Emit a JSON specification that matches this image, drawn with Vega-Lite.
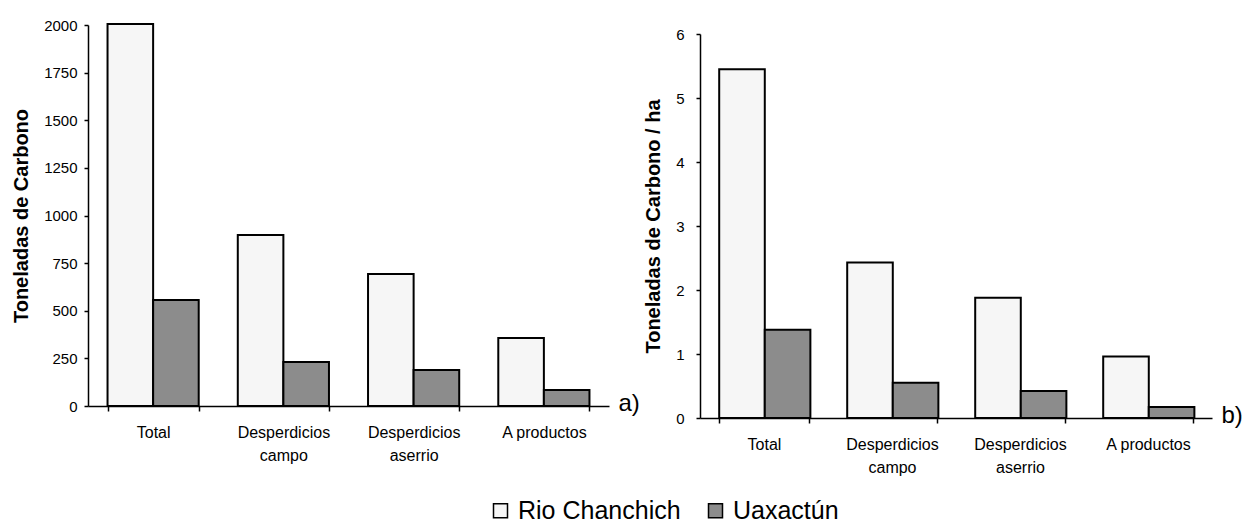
{
  "$schema": "https://vega.github.io/schema/vega-lite/v6.json",
  "padding": {"left": 11, "top": 18, "right": 0, "bottom": 0},
  "spacing": 3,
  "background": "white",
  "data": {
    "values": [
      {"panel": "a", "categoria": "Total", "sitio": "Rio Chanchich", "valor": 2005},
      {"panel": "a", "categoria": "Total", "sitio": "Uaxactún", "valor": 556},
      {"panel": "a", "categoria": "Desperdicios campo", "sitio": "Rio Chanchich", "valor": 898},
      {"panel": "a", "categoria": "Desperdicios campo", "sitio": "Uaxactún", "valor": 231},
      {"panel": "a", "categoria": "Desperdicios aserrio", "sitio": "Rio Chanchich", "valor": 693},
      {"panel": "a", "categoria": "Desperdicios aserrio", "sitio": "Uaxactún", "valor": 189},
      {"panel": "a", "categoria": "A productos", "sitio": "Rio Chanchich", "valor": 357},
      {"panel": "a", "categoria": "A productos", "sitio": "Uaxactún", "valor": 84},
      {"panel": "b", "categoria": "Total", "sitio": "Rio Chanchich", "valor": 5.45},
      {"panel": "b", "categoria": "Total", "sitio": "Uaxactún", "valor": 1.38},
      {"panel": "b", "categoria": "Desperdicios campo", "sitio": "Rio Chanchich", "valor": 2.43},
      {"panel": "b", "categoria": "Desperdicios campo", "sitio": "Uaxactún", "valor": 0.55},
      {"panel": "b", "categoria": "Desperdicios aserrio", "sitio": "Rio Chanchich", "valor": 1.88},
      {"panel": "b", "categoria": "Desperdicios aserrio", "sitio": "Uaxactún", "valor": 0.42},
      {"panel": "b", "categoria": "A productos", "sitio": "Rio Chanchich", "valor": 0.96},
      {"panel": "b", "categoria": "A productos", "sitio": "Uaxactún", "valor": 0.17}
    ]
  },
  "hconcat": [
    {
      "width": 521,
      "height": 381,
      "transform": [{"filter": "datum.panel == 'a'"}],
      "mark": {"type": "bar", "stroke": "black", "strokeWidth": 2},
      "encoding": {
        "x": {
          "field": "categoria", "type": "nominal",
          "sort": ["Total", "Desperdicios campo", "Desperdicios aserrio", "A productos"],
          "scale": {"paddingInner": 0.3, "paddingOuter": 0.15},
          "axis": {
            "title": "a)", "titleX": 530, "titleY": -3, "titleAlign": "left", "titleBaseline": "middle",
            "titleAngle": 0, "titleFontSize": 24, "titleFontWeight": "normal",
            "labelAngle": 0, "tickBand": "extent", "labelBaseline": "top", "labelPadding": 13, "labelLineHeight": 23,
            "labelExpr": "datum.label == 'A productos' || datum.label == 'Total' ? datum.label : split(datum.label, ' ')"
          }
        },
        "xOffset": {"field": "sitio", "sort": ["Rio Chanchich", "Uaxactún"]},
        "y": {
          "field": "valor", "type": "quantitative",
          "scale": {"domain": [0, 2000], "nice": false},
          "axis": {"values": [0, 250, 500, 750, 1000, 1250, 1500, 1750, 2000], "format": "d", "title": "Toneladas de Carbono", "labelPadding": 7, "titlePadding": 12}
        },
        "color": {
          "field": "sitio", "type": "nominal",
          "scale": {"domain": ["Rio Chanchich", "Uaxactún"], "range": ["#f6f6f6", "#8c8c8c"]},
          "legend": {
            "orient": "none", "legendX": 400, "legendY": 473, "direction": "horizontal", "title": null,
            "symbolType": "square", "symbolSize": 196, "symbolStrokeColor": "black", "symbolStrokeWidth": 1.5,
            "labelFontSize": 25, "labelFont": "Liberation Sans", "labelColor": "black", "labelLimit": 0,
            "columnPadding": 22, "labelOffset": 5
          }
        }
      }
    },
    {
      "spacing": 1,
      "vconcat": [
        {
          "width": 512,
          "height": 1,
          "data": {"values": []},
          "mark": {"type": "rule", "opacity": 0},
          "encoding": {}
        },
        {
          "width": 512,
          "height": 384,
          "transform": [{"filter": "datum.panel == 'b'"}],
          "mark": {"type": "bar", "stroke": "black", "strokeWidth": 2},
          "encoding": {
            "x": {
              "field": "categoria", "type": "nominal",
              "sort": ["Total", "Desperdicios campo", "Desperdicios aserrio", "A productos"],
              "scale": {"paddingInner": 0.3, "paddingOuter": 0.15},
              "axis": {
                "title": "b)", "titleX": 521, "titleY": -3, "titleAlign": "left", "titleBaseline": "middle",
                "titleAngle": 0, "titleFontSize": 24, "titleFontWeight": "normal",
                "labelAngle": 0, "tickBand": "extent", "labelBaseline": "top", "labelPadding": 13, "labelLineHeight": 23,
                "labelExpr": "datum.label == 'A productos' || datum.label == 'Total' ? datum.label : split(datum.label, ' ')"
              }
            },
            "xOffset": {"field": "sitio", "sort": ["Rio Chanchich", "Uaxactún"]},
            "y": {
              "field": "valor", "type": "quantitative",
              "scale": {"domain": [0, 6], "nice": false},
              "axis": {"values": [0, 1, 2, 3, 4, 5, 6], "title": "Toneladas de Carbono / ha", "labelPadding": 12, "titlePadding": 12}
            },
            "color": {
              "field": "sitio", "type": "nominal",
              "scale": {"domain": ["Rio Chanchich", "Uaxactún"], "range": ["#f6f6f6", "#8c8c8c"]}
            }
          }
        }
      ]
    }
  ],
  "resolve": {"scale": {"color": "shared"}},
  "config": {
    "view": {"stroke": null},
    "font": "Liberation Sans",
    "axis": {
      "grid": false, "domainColor": "black", "domainWidth": 1.5, "tickColor": "black", "tickWidth": 1.5, "tickSize": 4,
      "labelColor": "black", "titleColor": "black", "labelFont": "Liberation Sans", "titleFont": "Liberation Sans",
      "labelFontSize": 15, "titleFontSize": 20, "titleFontWeight": "bold"
    },
    "axisX": {"labelFontSize": 16, "tickSize": 5}
  }
}
